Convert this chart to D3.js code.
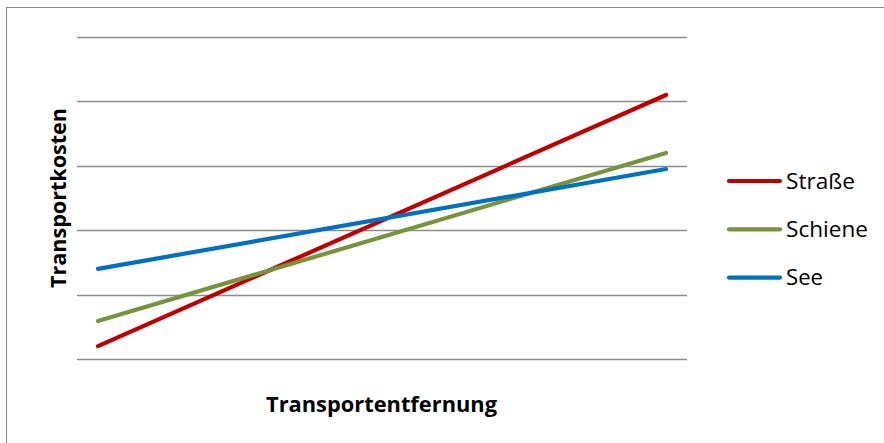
<!DOCTYPE html>
<html><head><meta charset="utf-8">
<script src="https://cdn.jsdelivr.net/npm/d3@7"></script>
<style>html,body{margin:0;padding:0;background:#fff;}svg{display:block;}</style>
</head><body>
<svg id="chart" width="884" height="443"></svg>
<script>
const categories = ["nah", "fern"];
const seriesNames = ["Straße", "Schiene", "See"];
const strasse = [0.2, 4.1];
const schiene = [0.59, 3.2];
const see = [1.4, 2.95];
const gridTicks = [0, 1, 2, 3, 4, 5];
const colors = ["#C00000", "#77933C", "#0070C0"];
const xTitle = "Transportentfernung";
const yTitle = "Transportkosten";

const series = [strasse, schiene, see];
const svg = d3.select("#chart");
const font = "'Open Sans', sans-serif";
const legendWidths = [69, 82, 37];

// outer border
svg.append("rect").attr("x", 6.5).attr("y", 7.5).attr("width", 900).attr("height", 500)
  .attr("fill", "none").attr("stroke", "#898989").attr("stroke-width", 1);

const plotLeft = 77, plotRight = 687;
const x = d3.scalePoint().domain(categories).range([98, 666]);
const y = d3.scaleLinear().domain([0, 5]).range([359, 37]);

svg.append("g").selectAll("line").data(gridTicks).join("line")
  .attr("x1", plotLeft).attr("x2", plotRight)
  .attr("y1", d => Math.round(y(d)) + 0.5).attr("y2", d => Math.round(y(d)) + 0.5)
  .attr("stroke", "#8c8c8c").attr("stroke-width", 1.3);

const line = d3.line().x((d, i) => x(categories[i])).y(d => y(d));
svg.append("g").selectAll("path").data(series).join("path")
  .attr("d", d => line(d)).attr("fill", "none")
  .attr("stroke", (d, i) => colors[i]).attr("stroke-width", 4.2).attr("stroke-linecap", "round");

// legend
const leg = svg.append("g");
seriesNames.forEach((n, i) => {
  const ly = 181 + i * 48.3;
  leg.append("line").attr("x1", 729).attr("x2", 780).attr("y1", ly).attr("y2", ly)
    .attr("stroke", colors[i]).attr("stroke-width", 4.2).attr("stroke-linecap", "round");
  leg.append("text").attr("x", 786).attr("y", ly + 7.5).text(n)
    .attr("font-family", font).attr("font-size", 22).attr("fill", "#000")
    .attr("textLength", legendWidths[i]).attr("lengthAdjust", "spacingAndGlyphs");
});

svg.append("text").attr("x", 381.5).attr("y", 412).attr("text-anchor", "middle")
  .attr("font-family", font).attr("font-weight", "bold").attr("font-size", 21)
  .attr("textLength", 231).attr("lengthAdjust", "spacingAndGlyphs").text(xTitle);
svg.append("text").attr("transform", "translate(66,198) rotate(-90)").attr("text-anchor", "middle")
  .attr("font-family", font).attr("font-weight", "bold").attr("font-size", 21)
  .attr("textLength", 180).attr("lengthAdjust", "spacingAndGlyphs").text(yTitle);
</script>
</body></html>
